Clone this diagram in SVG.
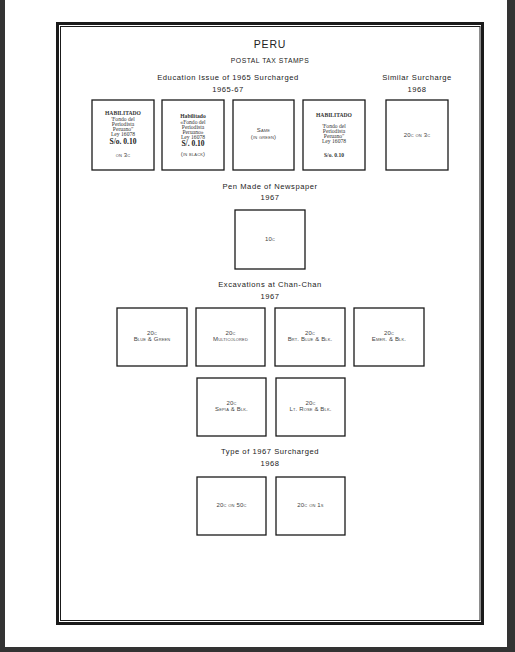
<svg xmlns="http://www.w3.org/2000/svg" width="515" height="652" viewBox="0 0 515 652">
<style>
.h{font-family:"Liberation Sans",Arial,sans-serif;fill:#222;text-anchor:middle;font-size:7.6px;letter-spacing:0.55px}
.t{font-family:"Liberation Sans",Arial,sans-serif;fill:#222;text-anchor:middle}
.box{fill:#fff;stroke:#1a1a1a;stroke-width:1.3}
.s{font-family:"Liberation Serif","Times New Roman",serif;fill:#333;text-anchor:middle;font-size:5.6px}
.sb{font-family:"Liberation Serif","Times New Roman",serif;fill:#222;text-anchor:middle;font-size:7.5px;font-weight:bold}
.sc{font-family:"Liberation Sans",Arial,sans-serif;fill:#444;text-anchor:middle;font-size:6px;font-variant:small-caps;letter-spacing:0.15px}
</style>
<rect x="0" y="0" width="515" height="652" fill="#333"/>
<rect x="5" y="0" width="502" height="647" fill="#fff"/>
<g id="frame">
<rect x="57.5" y="23.5" width="425" height="600" fill="none" stroke="#1a1a1a" stroke-width="3"/>
<rect x="60.5" y="26.5" width="419.5" height="594" fill="none" stroke="#1a1a1a" stroke-width="1"/>
</g>
<g id="headings">
<text class="t" x="270" y="48" font-size="10.5" letter-spacing="0.8">PERU</text>
<text class="t" x="270" y="63" font-size="6.8" letter-spacing="0.5">POSTAL TAX STAMPS</text>
<text class="h" x="228" y="80">Education Issue of 1965 Surcharged</text>
<text class="h" x="228" y="92">1965-67</text>
<text class="h" x="417" y="80">Similar Surcharge</text>
<text class="h" x="417" y="92">1968</text>
<text class="h" x="270" y="189">Pen Made of Newspaper</text>
<text class="h" x="270" y="200">1967</text>
<text class="h" x="270" y="287">Excavations at Chan-Chan</text>
<text class="h" x="270" y="299">1967</text>
<text class="h" x="270" y="454">Type of 1967 Surcharged</text>
<text class="h" x="270" y="466">1968</text>
</g>
<g id="stamp1">
<rect class="box" x="92" y="100" width="62" height="70"/>
<text class="s" x="123" y="115" font-weight="bold">HABILITADO</text>
<text class="s" x="123" y="120.5">'Fondo del</text>
<text class="s" x="123" y="125.5">Periodista</text>
<text class="s" x="123" y="130.5">Peruano''</text>
<text class="s" x="123" y="135.5">Ley 16078</text>
<text class="sb" x="123" y="144">S/o. 0.10</text>
<text class="sc" x="123" y="157">on 3c</text>
</g>
<g id="stamp2">
<rect class="box" x="162" y="100" width="62" height="70"/>
<text class="s" x="193" y="118" font-size="6.8" font-weight="bold">Habilitado</text>
<text class="s" x="193" y="123.5">«Fondo del</text>
<text class="s" x="193" y="128.5">Periodista</text>
<text class="s" x="193" y="133.5">Peruano»</text>
<text class="s" x="193" y="138.5">Ley 16078</text>
<text class="sb" x="193" y="146" font-weight="normal">S/. 0.10</text>
<text class="sc" x="193" y="156">(in black)</text>
</g>
<g id="stamp3">
<rect class="box" x="233" y="100" width="61" height="70"/>
<text class="sc" x="263.5" y="132">Same</text>
<text class="sc" x="263.5" y="138.5">(in green)</text>
</g>
<g id="stamp4">
<rect class="box" x="303" y="100" width="62" height="70"/>
<text class="s" x="334" y="117" font-weight="bold">HABILITADO</text>
<text class="s" x="334" y="127.5">'Fondo del</text>
<text class="s" x="334" y="132.5">Periodista</text>
<text class="s" x="334" y="137.5">Peruano''</text>
<text class="s" x="334" y="142.5">Ley 16078</text>
<text class="s" x="334" y="157" font-size="6.4" font-weight="bold">S/o. 0.10</text>
</g>
<g id="stamp5">
<rect class="box" x="386" y="100" width="62" height="70"/>
<text class="sc" x="417" y="136.5">20c on 3c</text>
</g>
<g id="stamp6">
<rect class="box" x="235" y="210" width="70" height="59"/>
<text class="sc" x="270" y="241">10c</text>
</g>
<g id="stamp7">
<rect class="box" x="117" y="308" width="70" height="58"/>
<text class="sc" x="152" y="335">20c</text>
<text class="sc" x="152" y="341">Blue &amp; Green</text>
</g>
<g id="stamp8">
<rect class="box" x="196" y="308" width="69" height="58"/>
<text class="sc" x="230.5" y="335">20c</text>
<text class="sc" x="230.5" y="341">Multicolored</text>
</g>
<g id="stamp9">
<rect class="box" x="275" y="308" width="70" height="58"/>
<text class="sc" x="310" y="335">20c</text>
<text class="sc" x="310" y="341">Brt. Blue &amp; Blk.</text>
</g>
<g id="stamp10">
<rect class="box" x="354" y="308" width="70" height="58"/>
<text class="sc" x="389" y="335">20c</text>
<text class="sc" x="389" y="341">Emer. &amp; Blk.</text>
</g>
<g id="stamp11">
<rect class="box" x="197" y="378" width="69" height="58"/>
<text class="sc" x="231.5" y="405">20c</text>
<text class="sc" x="231.5" y="411">Sepia &amp; Blk.</text>
</g>
<g id="stamp12">
<rect class="box" x="276" y="378" width="69" height="58"/>
<text class="sc" x="310.5" y="405">20c</text>
<text class="sc" x="310.5" y="411">Lt. Rose &amp; Blk.</text>
</g>
<g id="stamp13">
<rect class="box" x="197" y="477" width="69" height="58"/>
<text class="sc" x="231.5" y="507">20c on 50c</text>
</g>
<g id="stamp14">
<rect class="box" x="276" y="477" width="69" height="58"/>
<text class="sc" x="310.5" y="507">20c on 1s</text>
</g>
<g id="connectors"></g>
</svg>
